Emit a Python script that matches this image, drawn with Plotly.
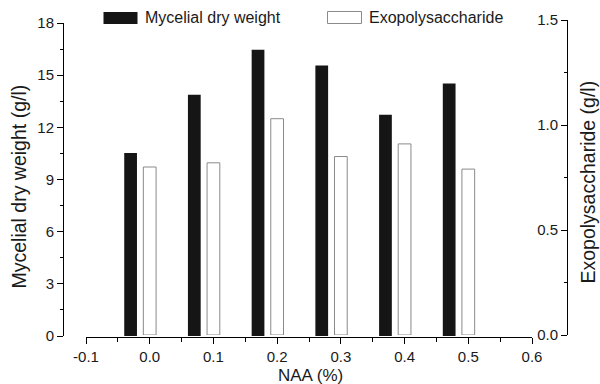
import plotly.graph_objects as go

# ---- data ----
naa = [0.0, 0.1, 0.2, 0.3, 0.4, 0.5]
mycelial_dry_weight = [10.53, 13.87, 16.46, 15.56, 12.72, 14.52]
exopolysaccharide = [0.80, 0.82, 1.03, 0.85, 0.91, 0.79]
x_tick_vals = [-0.1, 0.0, 0.1, 0.2, 0.3, 0.4, 0.5, 0.6]
x_tick_labels = ["-0.1", "0.0", "0.1", "0.2", "0.3", "0.4", "0.5", "0.6"]
series_names = ["Mycelial dry weight", "Exopolysaccharide"]
x_title = "NAA (%)"
y_title = "Mycelial dry weight (g/l)"
y2_title = "Exopolysaccharide (g/l)"

W, H = 600, 384
FONT = "Liberation Sans, Arial, sans-serif"
TXT = "#1a1a1a"


def fx(px):
    return px / W


def fy(py):
    return 1 - py / H


fig = go.Figure()
fig.add_trace(go.Bar(
    x=naa, y=mycelial_dry_weight, name=series_names[0],
    width=0.02, offset=-0.04,
    marker=dict(color="#151515", line=dict(width=0)),
    xaxis="x", yaxis="y", showlegend=False,
))
fig.add_trace(go.Bar(
    x=naa, y=exopolysaccharide, name=series_names[1],
    width=0.02, offset=-0.01,
    marker=dict(color="white", line=dict(color="#8a8a8a", width=1)),
    xaxis="x", yaxis="y2", showlegend=False,
))

axis_common = dict(
    showline=True, linecolor="black", linewidth=1,
    showgrid=False, zeroline=False, automargin=False,
    tickcolor="black", tickwidth=1,
    tickfont=dict(family=FONT, size=15, color=TXT),
)

fig.update_layout(
    template="none",
    width=W, height=H,
    margin=dict(l=0, r=0, t=0, b=0, pad=0),
    paper_bgcolor="white", plot_bgcolor="rgba(0,0,0,0)",
    barmode="overlay",
    font=dict(family=FONT, color=TXT),
    xaxis=dict(
        domain=[fx(86), fx(532)], range=[-0.1, 0.6],
        anchor="free", position=fy(337),
        tickmode="array", tickvals=x_tick_vals, ticktext=x_tick_labels,
        ticks="outside", ticklen=6,
        minor=dict(tickmode="linear", tick0=-0.1, dtick=0.05, ticks="outside",
                   ticklen=4, tickcolor="black", showgrid=False),
        **axis_common,
    ),
    yaxis=dict(
        domain=[fy(336), fy(23)], range=[0, 18],
        anchor="free", position=fx(63), side="left",
        tickmode="linear", tick0=0, dtick=3,
        ticks="outside", ticklen=6,
        minor=dict(tickmode="linear", tick0=0, dtick=1.5, ticks="outside",
                   ticklen=3, tickcolor="black", showgrid=False),
        **axis_common,
    ),
    yaxis2=dict(
        domain=[fy(335), fy(20)], range=[0, 1.5],
        anchor="free", position=fx(567), side="left",
        tickmode="linear", tick0=0, dtick=0.5, tickformat=".1f",
        ticks="outside", ticklen=6,
        minor=dict(tickmode="linear", tick0=0, dtick=0.25, ticks="outside",
                   ticklen=3, tickcolor="black", showgrid=False),
        **axis_common,
    ),
)

# legend drawn as swatches + labels
fig.add_shape(type="rect", xref="paper", yref="paper",
              x0=fx(103.5), x1=fx(137.5), y0=fy(24), y1=fy(12),
              fillcolor="#151515", line=dict(width=0))
fig.add_shape(type="rect", xref="paper", yref="paper",
              x0=fx(327.5), x1=fx(361.5), y0=fy(23.5), y1=fy(11.5),
              fillcolor="white", line=dict(color="#8a8a8a", width=1))
fig.add_annotation(x=fx(143), y=fy(17.5), xref="paper", yref="paper",
                   text=series_names[0], showarrow=False,
                   xanchor="left", yanchor="middle",
                   font=dict(family=FONT, size=16, color=TXT))
fig.add_annotation(x=fx(367), y=fy(17.5), xref="paper", yref="paper",
                   text=series_names[1], showarrow=False,
                   xanchor="left", yanchor="middle",
                   font=dict(family=FONT, size=16, color=TXT))

# axis titles
fig.add_annotation(x=fx(19), y=fy(186.5), xref="paper", yref="paper",
                   text=y_title, showarrow=False, textangle=-90,
                   xanchor="center", yanchor="middle",
                   font=dict(family=FONT, size=19.5, color=TXT))
fig.add_annotation(x=fx(587), y=fy(182.5), xref="paper", yref="paper",
                   text=y2_title, showarrow=False, textangle=-90,
                   xanchor="center", yanchor="middle",
                   font=dict(family=FONT, size=19.5, color=TXT))
fig.add_annotation(x=fx(310), y=fy(375), xref="paper", yref="paper",
                   text=x_title, showarrow=False, borderpad=0,
                   xanchor="center", yanchor="middle",
                   font=dict(family=FONT, size=17, color=TXT))

fig.write_html("out.html")
